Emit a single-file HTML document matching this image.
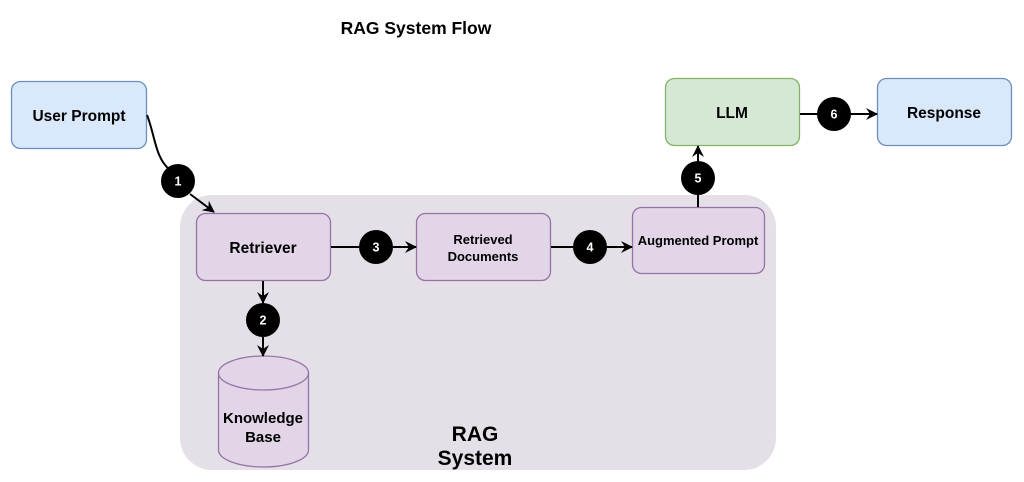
<!DOCTYPE html>
<html><head><meta charset="utf-8"><style>
html,body{margin:0;padding:0;background:#fff;}
svg{display:block;font-family:"Liberation Sans",Arial,sans-serif;font-weight:bold;}
</style></head><body>
<svg width="1024" height="482" viewBox="0 0 1024 482" xmlns="http://www.w3.org/2000/svg">
<defs>
<marker id="a" markerWidth="14" markerHeight="14" refX="11" refY="6" orient="auto" markerUnits="userSpaceOnUse">
<path d="M0,0 L12,6 L0,12 L4,6 Z" fill="#000"/>
</marker>
</defs>
<text x="416" y="34" text-anchor="middle" font-size="17.5" fill="#000">RAG System Flow</text>
<rect x="180" y="195" width="596" height="275" rx="32" fill="#e5e0e7"/>
<text x="475" y="441" text-anchor="middle" font-size="21" fill="#000">RAG</text>
<text x="475" y="465" text-anchor="middle" font-size="21" fill="#000">System</text>

<rect x="11.5" y="81.5" width="135" height="67" rx="9" fill="#dae8fc" stroke="#6c8ebf" stroke-width="1.3"/>
<text x="79" y="121" text-anchor="middle" font-size="15.5">User Prompt</text>
<rect x="665.5" y="78.5" width="134" height="67" rx="9" fill="#d5e8d4" stroke="#82b366" stroke-width="1.3"/>
<text x="732" y="118" text-anchor="middle" font-size="15.5">LLM</text>
<rect x="877.5" y="78.5" width="134" height="67" rx="9" fill="#dae8fc" stroke="#6c8ebf" stroke-width="1.3"/>
<text x="944" y="118" text-anchor="middle" font-size="15.5">Response</text>

<rect x="196.5" y="213.5" width="134" height="67" rx="9" fill="#e1d5e7" stroke="#9673a6" stroke-width="1.3"/>
<text x="263" y="253" text-anchor="middle" font-size="15.5">Retriever</text>
<rect x="416.5" y="213.5" width="134" height="67" rx="9" fill="#e1d5e7" stroke="#9673a6" stroke-width="1.3"/>
<text x="483" y="244" text-anchor="middle" font-size="13">Retrieved</text>
<text x="483" y="261" text-anchor="middle" font-size="13">Documents</text>
<rect x="632.5" y="207.5" width="132" height="66" rx="9" fill="#e1d5e7" stroke="#9673a6" stroke-width="1.3"/>
<text x="698" y="245" text-anchor="middle" font-size="13">Augmented Prompt</text>

<path d="M218.5,373 L218.5,450 A45,17 0 0 0 308.5,450 L308.5,373" fill="#e1d5e7" stroke="#9673a6" stroke-width="1.3"/>
<ellipse cx="263.5" cy="373" rx="45" ry="17" fill="#e1d5e7" stroke="#9673a6" stroke-width="1.3"/>
<text x="263" y="423" text-anchor="middle" font-size="15">Knowledge</text>
<text x="263" y="442" text-anchor="middle" font-size="15">Base</text>

<g stroke="#000" stroke-width="2" fill="none">
<path d="M147,115 C155,135 155,158 170,170" />
<path d="M190,194 L214,212" marker-end="url(#a)"/>
<path d="M331,247 L416,247" marker-end="url(#a)"/>
<path d="M551,247 L632,247" marker-end="url(#a)"/>
<path d="M698,207 L698,146" marker-end="url(#a)"/>
<path d="M800,114 L877,114" marker-end="url(#a)"/>
<path d="M263,281 L263,303" marker-end="url(#a)"/>
<path d="M263,337 L263,356" marker-end="url(#a)"/>
</g>
<g font-size="12.5" fill="#fff" text-anchor="middle">
<circle cx="178" cy="181" r="17" fill="#000"/><text x="178" y="185.5">1</text>
<circle cx="263" cy="320" r="17" fill="#000"/><text x="263" y="324.5">2</text>
<circle cx="376" cy="247" r="17" fill="#000"/><text x="376" y="251.5">3</text>
<circle cx="590" cy="247" r="17" fill="#000"/><text x="590" y="251.5">4</text>
<circle cx="698" cy="178" r="17" fill="#000"/><text x="698" y="182.5">5</text>
<circle cx="834" cy="114" r="17" fill="#000"/><text x="834" y="118.5">6</text>
</g>
</svg>
</body></html>
